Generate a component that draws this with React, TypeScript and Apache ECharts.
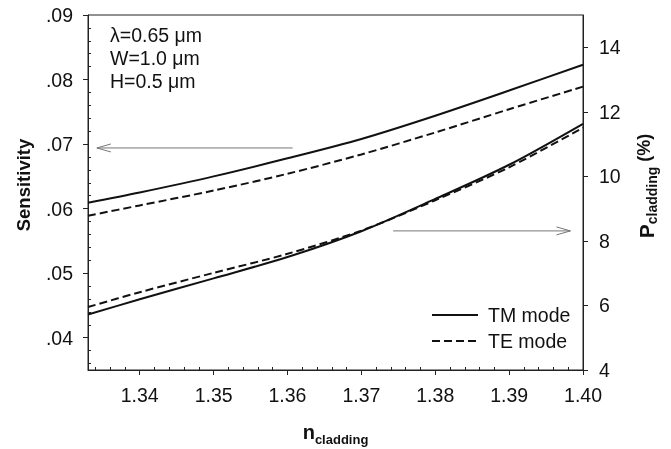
import React, { useEffect, useRef } from 'react';
import * as echarts from 'echarts';

// ---- data ----
const nCladding = [1.333, 1.34, 1.35, 1.36, 1.37, 1.38, 1.39, 1.40];
const sensTM = [0.0609, 0.0625, 0.0650, 0.0678, 0.0708, 0.0744, 0.0783, 0.0823];
const sensTE = [0.0589, 0.0605, 0.0628, 0.0654, 0.0684, 0.0718, 0.0754, 0.0789];
const pTM = [5.72, 6.19, 6.84, 7.50, 8.30, 9.30, 10.36, 11.63];
const pTE = [5.95, 6.41, 7.01, 7.60, 8.32, 9.26, 10.28, 11.51];

// ---- ticks ----
const xMajor = [1.34, 1.35, 1.36, 1.37, 1.38, 1.39, 1.40];
const xMinor = [
  1.334, 1.336, 1.338, 1.342, 1.344, 1.346, 1.348, 1.352, 1.354, 1.356, 1.358,
  1.362, 1.364, 1.366, 1.368, 1.372, 1.374, 1.376, 1.378, 1.382, 1.384, 1.386, 1.388,
  1.392, 1.394, 1.396, 1.398,
];
const yLeftMajor = [0.04, 0.05, 0.06, 0.07, 0.08, 0.09];
const yLeftMinor = [
  0.036, 0.038, 0.042, 0.044, 0.046, 0.048, 0.052, 0.054, 0.056, 0.058,
  0.062, 0.064, 0.066, 0.068, 0.072, 0.074, 0.076, 0.078, 0.082, 0.084, 0.086, 0.088,
];
const yRightMajor = [4, 6, 8, 10, 12, 14];

const annotations = ['λ=0.65 μm', 'W=1.0 μm', 'H=0.5 μm'];
const legendNames = ['TM mode', 'TE mode'];
// arrows in data coordinates: [from, to]
const arrowLeft = [[1.3607, 0.0694], [1.3342, 0.0694]]; // left axis
const arrowRight = [[1.3743, 8.31], [1.3983, 8.31]]; // right axis

const FONT = '"Liberation Sans", Arial, sans-serif';
const FS = 19.5;

function measure(text: string, font: string) {
  const c = document.createElement('canvas').getContext('2d')!;
  c.font = font;
  return c.measureText(text).width;
}

export default function App() {
  const ref = useRef<HTMLDivElement>(null);
  useEffect(() => {
    const chart = echarts.init(ref.current!, undefined, { renderer: 'svg' });
    const black = '#111';
    const labelStyle = { color: '#111', fontSize: FS, fontFamily: FONT };
    const option: any = {
      animation: false,
      grid: { left: 88, right: 88, top: 15, bottom: 79, show: true, borderColor: '#222', borderWidth: 1 },
      legend: {
        data: legendNames,
        orient: 'vertical',
        left: 431,
        top: 305,
        padding: 0,
        itemWidth: 46,
        itemHeight: 14,
        itemGap: 6,
        itemStyle: { opacity: 0 },
        textStyle: { fontSize: FS, color: '#111', fontFamily: FONT, padding: [0, 0, 0, 5] },
      },
      xAxis: [
        {
          type: 'value', min: 1.333, max: 1.40, position: 'bottom',
          axisLine: { show: true, lineStyle: { color: '#222', width: 1 } },
          axisTick: { show: true, inside: false, length: 5, customValues: xMajor, lineStyle: { color: '#222' } },
          axisLabel: { ...labelStyle, margin: 15, customValues: xMajor, formatter: (v: number) => v.toFixed(2) },
          splitLine: { show: false },
        },
        {
          type: 'value', min: 1.333, max: 1.40, position: 'bottom',
          axisLine: { show: false },
          axisTick: { show: true, inside: true, length: 3, customValues: xMinor, lineStyle: { color: '#222' } },
          axisLabel: { show: false },
          splitLine: { show: false },
        },
      ],
      yAxis: [
        {
          type: 'value', min: 0.035, max: 0.09, position: 'left',
          axisLine: { show: true, lineStyle: { color: '#222', width: 1 } },
          axisTick: { show: true, inside: false, length: 5, customValues: yLeftMajor, lineStyle: { color: '#222' } },
          axisLabel: { ...labelStyle, margin: 15, customValues: yLeftMajor, formatter: (v: number) => v.toFixed(2).replace(/^0/, '') },
          splitLine: { show: false },
        },
        {
          type: 'value', min: 4, max: 15, position: 'right',
          axisLine: { show: true, lineStyle: { color: '#222', width: 1 } },
          axisTick: { show: true, inside: false, length: 5, customValues: yRightMajor, lineStyle: { color: '#222' } },
          axisLabel: { ...labelStyle, margin: 16, customValues: yRightMajor, formatter: (v: number) => String(v) },
          splitLine: { show: false },
        },
        {
          type: 'value', min: 0.035, max: 0.09, position: 'left',
          axisLine: { show: false },
          axisTick: { show: true, inside: true, length: 3, customValues: yLeftMinor, lineStyle: { color: '#222' } },
          axisLabel: { show: false },
          splitLine: { show: false },
        },
      ],
      series: [
        {
          name: 'TM mode', type: 'line', xAxisIndex: 0, yAxisIndex: 0, symbol: 'none', smooth: 0.3,
          data: nCladding.map((x, i) => [x, sensTM[i]]),
          lineStyle: { color: black, width: 2, type: 'solid' }, itemStyle: { color: black },
        },
        {
          name: 'TE mode', type: 'line', xAxisIndex: 0, yAxisIndex: 0, symbol: 'none', smooth: 0.3,
          data: nCladding.map((x, i) => [x, sensTE[i]]),
          lineStyle: { color: black, width: 2, type: [8, 4] }, itemStyle: { color: black },
        },
        {
          name: 'TM mode', type: 'line', xAxisIndex: 0, yAxisIndex: 1, symbol: 'none', smooth: 0.3,
          data: nCladding.map((x, i) => [x, pTM[i]]),
          lineStyle: { color: black, width: 2, type: 'solid' }, itemStyle: { color: black },
        },
        {
          name: 'TE mode', type: 'line', xAxisIndex: 0, yAxisIndex: 1, symbol: 'none', smooth: 0.3,
          data: nCladding.map((x, i) => [x, pTE[i]]),
          lineStyle: { color: black, width: 2, type: [8, 4] }, itemStyle: { color: black },
        },
      ],
    };
    chart.setOption(option);

    const toPx = (p: number[], yIdx: number) =>
      chart.convertToPixel({ xAxisIndex: 0, yAxisIndex: yIdx }, p) as number[];
    const arrowEls = (arr: number[][], yIdx: number) => {
      const a = toPx(arr[0], yIdx);
      const b = toPx(arr[1], yIdx);
      const dir = Math.sign(a[0] - b[0]);
      const stroke = { stroke: '#777', lineWidth: 1, fill: 'none' };
      return [
        { type: 'polyline', shape: { points: [a, b] }, style: stroke, silent: true },
        {
          type: 'polyline',
          shape: { points: [[b[0] + dir * 14, b[1] - 4], b, [b[0] + dir * 14, b[1] + 4]] },
          style: stroke, silent: true,
        },
      ];
    };

    const bigB = `bold 20px ${FONT}`;
    const subB = `bold 13px ${FONT}`;
    const wn = measure('n', bigB);
    const wc = measure('cladding', subB);
    const xT0 = 335.5 - (wn + wc) / 2;

    const pB = `bold 21px ${FONT}`;
    const pSub = `bold 14px ${FONT}`;
    const pPct = `bold 18px ${FONT}`;
    const wP = measure('P', pB);
    const wPc = measure('cladding', pSub);
    const wPct = measure(' (%)', pPct);
    const rT0 = -(wP + wPc + wPct) / 2;

    const graphic: any[] = [
      ...annotations.map((t, i) => ({
        type: 'text', x: 110, y: 35 + i * 23, silent: true,
        style: { text: t, fontSize: FS, fontFamily: FONT, fill: '#111', align: 'left', verticalAlign: 'middle' },
      })),
      {
        type: 'text', x: 23, y: 185, rotation: Math.PI / 2, silent: true,
        style: { text: 'Sensitivity', fontSize: 18.5, fontWeight: 'bold', fontFamily: FONT, fill: '#111', align: 'center', verticalAlign: 'middle' },
      },
      {
        type: 'text', x: xT0, y: 432, silent: true,
        style: { text: 'n', font: bigB, fill: '#111', align: 'left', verticalAlign: 'middle' },
      },
      {
        type: 'text', x: xT0 + wn, y: 439, silent: true,
        style: { text: 'cladding', font: subB, fill: '#111', align: 'left', verticalAlign: 'middle' },
      },
      {
        type: 'group', x: 646, y: 186, rotation: Math.PI / 2, silent: true,
        children: [
          { type: 'text', x: rT0, y: 0, style: { text: 'P', font: pB, fill: '#111', align: 'left', verticalAlign: 'middle' } },
          { type: 'text', x: rT0 + wP, y: 6, style: { text: 'cladding', font: pSub, fill: '#111', align: 'left', verticalAlign: 'middle' } },
          { type: 'text', x: rT0 + wP + wPc, y: -2, style: { text: ' (%)', font: pPct, fill: '#111', align: 'left', verticalAlign: 'middle' } },
        ],
      },
      ...arrowEls(arrowLeft, 0),
      ...arrowEls(arrowRight, 1),
    ];
    chart.setOption({ graphic });

    return () => chart.dispose();
  }, []);
  return <div ref={ref} style={{ position: 'fixed', left: 0, top: 0, width: 671, height: 449 }} />;
}
